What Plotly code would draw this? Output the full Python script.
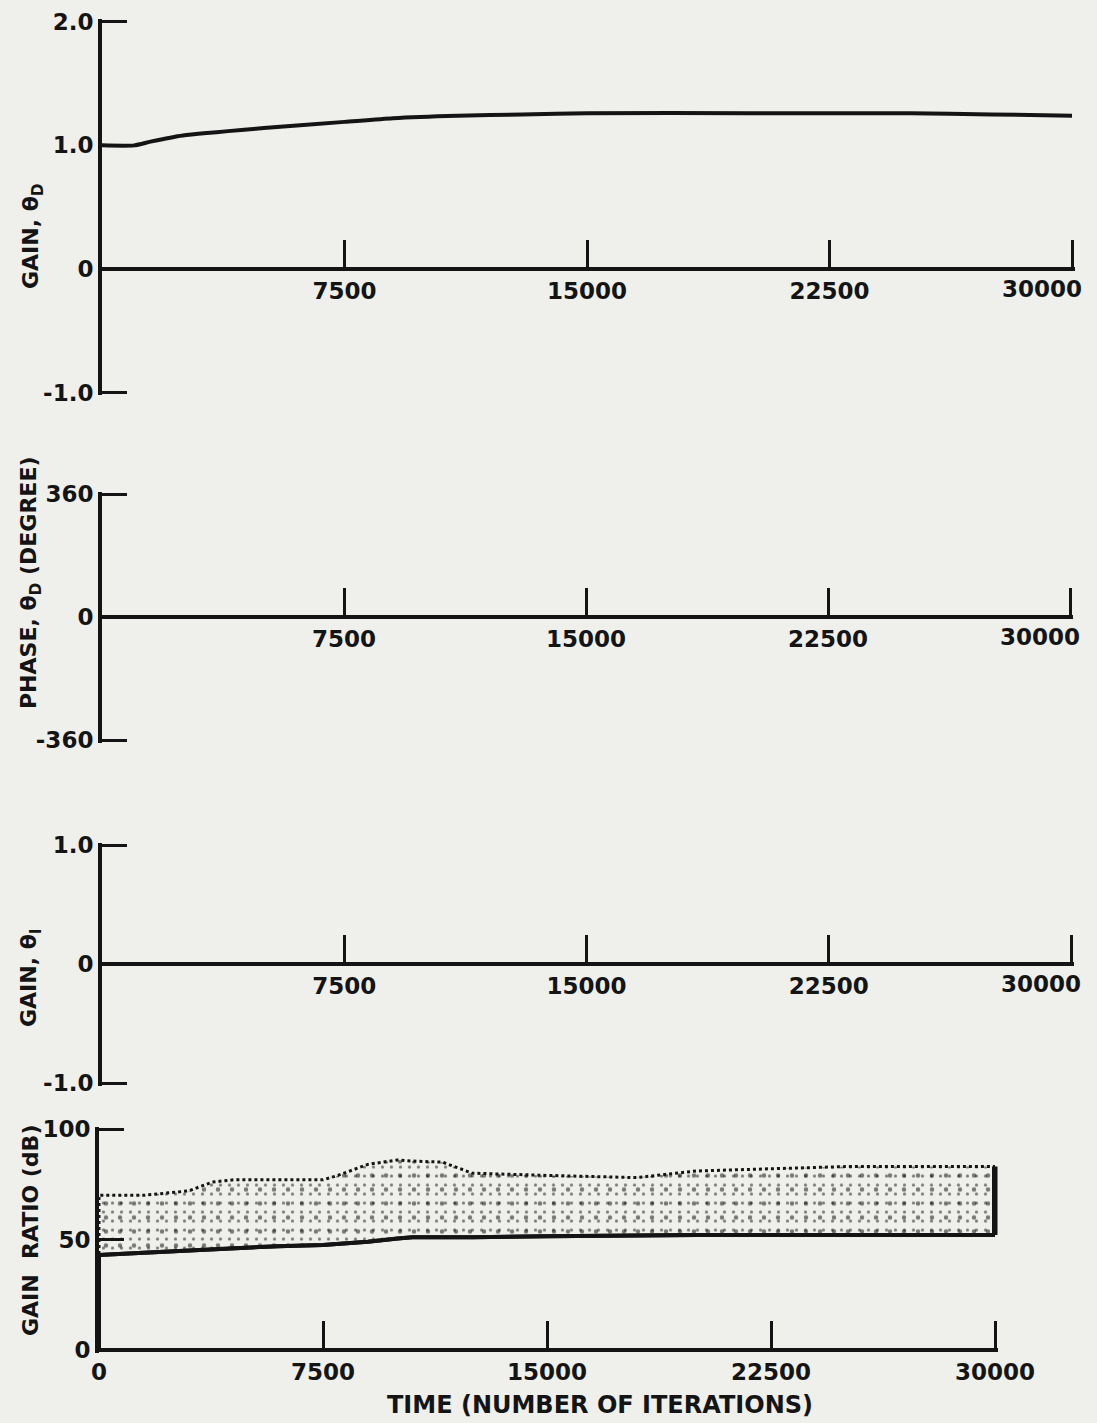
import plotly.graph_objects as go

# ---------------- data ----------------
# Panel 1: gain theta_D vs iterations
gain_d_iter = [0, 1000, 1500, 2500, 5000, 7500, 9000, 11000, 13000, 15000, 20000, 25000, 27500, 30000]
gain_d_vals = [1.0, 1.0, 1.03, 1.08, 1.14, 1.19, 1.22, 1.24, 1.25, 1.26, 1.26, 1.26, 1.25, 1.24]

# Panel 2: phase theta_D (degree)
phase_iter = [0, 7500, 15000, 22500, 30000]
phase_vals = [0, 0, 0, 0, 0]

# Panel 3: gain theta_I
gain_i_iter = [0, 7500, 15000, 22500, 30000]
gain_i_vals = [0, 0, 0, 0, 0]

# Panel 4: gain ratio (dB) scatter band - lower and upper envelopes
ratio_iter = [0, 0, 1500, 3000, 3800, 4500, 6000, 7500, 8000, 9000, 10000, 10500, 11500,
              12500, 15000, 18000, 20000, 22500, 25000, 27500, 30000]
ratio_low = [0, 43, 44, 45, 45.5, 46, 47, 47.5, 48, 49, 50.5, 51, 51, 51, 51.5, 52, 52, 52, 52, 52, 52]
ratio_high = [0, 70, 70, 72, 76, 77, 77, 77, 79, 84, 86, 85.5, 85, 80, 79, 78, 81, 82, 83, 83, 83]

x_ticks_top = [7500, 15000, 22500, 30000]
x_ticks_bottom = [0, 7500, 15000, 22500, 30000]
y1_ticks = [2.0, 1.0, 0, -1.0]
y1_text = ["2.0", "1.0", "0", "-1.0"]
y2_ticks = [360, 0, -360]
y2_text = ["360", "0", "-360"]
y3_ticks = [1.0, 0, -1.0]
y3_text = ["1.0", "0", "-1.0"]
y4_ticks = [100, 50, 0]
y4_text = ["100", "50", "0"]

# ---------------- layout helpers ----------------
W, H = 1097, 1423
INK = "#141414"
BG = "#efefec"
FONT = dict(family="DejaVu Sans", size=23, color=INK, weight="bold")


def fx(px):
    return px / W


def fy(py):
    return 1 - py / H


fig = go.Figure()

# panels: (x0px, x1px, ytop_px, ybot_px, yrange)
panels = [
    (102, 1072, 21.7, 392.7, [-1.0, 2.0]),
    (102, 1070, 494, 740, [-360, 360]),
    (102, 1071, 845, 1083, [-1.0, 1.0]),
    (99, 995, 1129, 1350, [0, 100]),
]
yticks = [(y1_ticks, y1_text), (y2_ticks, y2_text), (y3_ticks, y3_text), (y4_ticks, y4_text)]
PAD = 2.5  # pixels of overhang so that end ticks are drawn

for i, (x0, x1, yt, yb, yr) in enumerate(panels):
    n = "" if i == 0 else str(i + 1)
    zero_px = yt + (yr[1] - 0) / (yr[1] - yr[0]) * (yb - yt)
    last = i == 3
    xper = 30000 / (x1 - x0)
    yper = (yr[1] - yr[0]) / (yb - yt)
    xt = x_ticks_bottom if last else x_ticks_top
    # last label of the upper panels is set off to the left (annotation below)
    xtt = [str(v) for v in xt] if last else [str(v) for v in xt[:-1]] + [""]
    fig.layout["xaxis" + n] = dict(
        domain=[fx(x0), fx(x1 + PAD)], range=[0, 30000 + PAD * xper], anchor="free",
        position=fy(zero_px), showline=True, linecolor=INK, linewidth=4,
        ticks="inside", ticklen=27, tickwidth=3, tickcolor=INK,
        tickvals=xt, ticktext=xtt,
        showgrid=False, zeroline=False, tickfont=FONT, fixedrange=True,
        automargin=False, ticklabeloverflow="allow",
    )
    tv, tt = yticks[i]
    fig.layout["yaxis" + n] = dict(
        domain=[fy(yb + PAD), fy(yt - PAD)],
        range=[yr[0] - PAD * yper, yr[1] + PAD * yper], anchor="x" + n,
        showline=True, linecolor=INK, linewidth=4,
        ticks="inside", ticklen=25, tickwidth=3, tickcolor=INK,
        tickvals=tv, ticktext=tt, showgrid=False, zeroline=False,
        tickfont=FONT, fixedrange=True, automargin=False,
    )
    if not last:
        fig.add_annotation(text=str(xt[-1]), x=xt[-1], xref="x" + n,
                           y=fy(zero_px + 20), yref="paper", xshift=-30,
                           showarrow=False, font=FONT, xanchor="center", yanchor="middle")

# Panel 1 curve
fig.add_trace(go.Scatter(x=gain_d_iter, y=gain_d_vals, mode="lines",
                         line=dict(color=INK, width=4, shape="spline", smoothing=0.6),
                         xaxis="x", yaxis="y", showlegend=False, hoverinfo="skip"))
# Panel 2
fig.add_trace(go.Scatter(x=phase_iter, y=phase_vals, mode="lines",
                         line=dict(color=INK, width=4), xaxis="x2", yaxis="y2",
                         showlegend=False, hoverinfo="skip"))
# Panel 3
fig.add_trace(go.Scatter(x=gain_i_iter, y=gain_i_vals, mode="lines",
                         line=dict(color=INK, width=4), xaxis="x3", yaxis="y3",
                         showlegend=False, hoverinfo="skip"))
# Panel 4: lower envelope (dense edge)
fig.add_trace(go.Scatter(x=ratio_iter, y=ratio_low, mode="lines",
                         line=dict(color=INK, width=4), xaxis="x4", yaxis="y4",
                         showlegend=False, hoverinfo="skip"))
# upper envelope with speckled fill down to the lower envelope
fig.add_trace(go.Scatter(x=ratio_iter, y=ratio_high, mode="lines",
                         line=dict(color=INK, width=3, dash="dot"),
                         fill="tonexty", fillcolor="rgba(0,0,0,0)",
                         fillpattern=dict(shape=".", fgcolor="#000000", bgcolor="rgba(0,0,0,0)",
                                          size=9, solidity=0.1),
                         xaxis="x4", yaxis="y4", showlegend=False, hoverinfo="skip"))
# second, coarser speckle lattice over the same band (lower edge again)
fig.add_trace(go.Scatter(x=ratio_iter, y=ratio_low, mode="lines",
                         line=dict(color=INK, width=4),
                         fill="tonexty", fillcolor="rgba(0,0,0,0)",
                         fillpattern=dict(shape=".", fgcolor="#000000", bgcolor="rgba(0,0,0,0)",
                                          size=14, solidity=0.08),
                         xaxis="x4", yaxis="y4", showlegend=False, hoverinfo="skip"))
# dark closing edge at the end of the run
fig.add_trace(go.Scatter(x=[ratio_iter[-1], ratio_iter[-1]], y=[ratio_low[-1], ratio_high[-1]],
                         mode="lines", line=dict(color=INK, width=6), xaxis="x4", yaxis="y4",
                         showlegend=False, hoverinfo="skip", cliponaxis=False))

TFONT = dict(family="DejaVu Sans", size=22, color=INK, weight="bold")
titles = [
    ("GAIN, θ<sub>D</sub>", 32, 236),
    ("PHASE, θ<sub>D</sub> (DEGREE)", 30, 583),
    ("GAIN, θ<sub>I</sub>", 30, 978),
    ("GAIN  RATIO (dB)", 30, 1231),
]
for text, px, py in titles:
    fig.add_annotation(text=text, x=fx(px), y=fy(py), xref="paper", yref="paper",
                       textangle=-90, showarrow=False, font=TFONT,
                       xanchor="center", yanchor="middle")

fig.add_annotation(text="TIME (NUMBER OF ITERATIONS)", x=fx(600), y=fy(1405),
                   xref="paper", yref="paper", showarrow=False,
                   font=dict(family="DejaVu Sans", size=24, color=INK, weight="bold"),
                   xanchor="center", yanchor="middle")

fig.update_layout(width=W, height=H, margin=dict(l=0, r=0, t=0, b=0, autoexpand=False),
                  paper_bgcolor=BG, plot_bgcolor="rgba(0,0,0,0)", showlegend=False)

fig.write_html("out.html", config={"displayModeBar": False})
